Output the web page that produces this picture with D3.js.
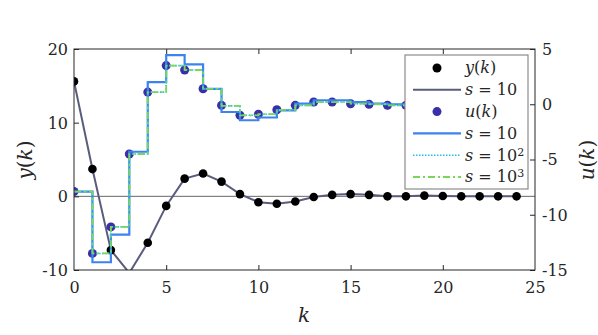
<!DOCTYPE html>
<html>
<head>
<meta charset="utf-8">
<script src="https://cdn.jsdelivr.net/npm/d3@7"></script>
<style>
  html, body { margin: 0; padding: 0; background: #fff; }
  svg { display: block; }
  svg text { font-family: "DejaVu Serif", "Liberation Serif", serif; fill: #262626; }
</style>
</head>
<body>
<svg id="chart" width="598" height="335"></svg>
<script>
// ---- data ----
const kSteps = d3.range(0, 25);
const yMeasured = [15.6, 3.7, -7.3, -10.4, -6.3, -1.3, 2.4, 3.1, 2.0, 0.3, -0.8, -1.0, -0.7, -0.1, 0.2, 0.3, 0.2, 0.0, 0.0, 0.1, 0.05, 0.0, 0.0, 0.0, 0.0];
const ySim10 = [15.6, 3.7, -7.3, -10.4, -6.3, -1.3, 2.4, 3.1, 2.0, 0.3, -0.8, -1.0, -0.7, -0.1, 0.2, 0.3, 0.2, 0.0, 0.0, 0.1, 0.05, 0.0, 0.0, 0.0, 0.0];
const uMeasured = [-7.9, -13.5, -11.1, -4.5, 1.1, 3.5, 3.1, 1.4, -0.1, -1.0, -0.9, -0.5, -0.1, 0.2, 0.2, 0.05, 0.0, -0.1, -0.1, -0.1, -0.1, -0.1, -0.1, -0.1, -0.1];
const uS10 = [-7.9, -14.3, -11.8, -4.3, 2.0, 4.45, 3.6, 1.4, -0.7, -1.45, -1.2, -0.55, 0.06, 0.36, 0.36, 0.2, 0.06, 0.0, 0.0, 0.0, 0.0, 0.0, 0.0, 0.0, 0.0];
const uS100 = [-7.9, -13.5, -11.1, -4.5, 1.1, 3.5, 3.1, 1.4, -0.15, -1.0, -0.9, -0.5, -0.1, 0.2, 0.2, 0.05, 0.0, -0.1, -0.1, -0.1, -0.1, -0.1, -0.1, -0.1, -0.1];
const uS1000 = [-7.9, -13.5, -11.1, -4.5, 1.1, 3.5, 3.1, 1.4, -0.15, -1.0, -0.9, -0.5, -0.1, 0.2, 0.2, 0.05, 0.0, -0.1, -0.1, -0.1, -0.1, -0.1, -0.1, -0.1, -0.1];
const xTicks = [0, 5, 10, 15, 20, 25];
const yLeftTicks = [-10, 0, 10, 20];
const yRightTicks = [-15, -10, -5, 0, 5];

// ---- layout ----
const FONT = '"DejaVu Serif", "Liberation Serif", serif';
const L = 74, R = 535, T = 49, B = 270;
const svg = d3.select("#chart");
const x = d3.scaleLinear().domain([0, 25]).range([L, R]);
const yL = d3.scaleLinear().domain([-10, 20]).range([B, T]);
const yR = d3.scaleLinear().domain([-15, 5]).range([B, T]);
const axisColor = "#262626";

svg.append("defs").append("clipPath").attr("id", "plotclip")
  .append("rect").attr("x", L).attr("y", T).attr("width", R - L).attr("height", B - T);

const plot = svg.append("g").attr("clip-path", "url(#plotclip)");

// zero line
plot.append("line")
  .attr("x1", L).attr("x2", R).attr("y1", yL(0)).attr("y2", yL(0))
  .attr("stroke", "#555").attr("stroke-width", 0.9);

// y(k) line
const lineY = d3.line().x((d, i) => x(kSteps[i])).y(d => yL(d));
plot.append("path").datum(ySim10).attr("d", lineY)
  .attr("fill", "none").attr("stroke", "#595c7c").attr("stroke-width", 2);

// y(k) dots
plot.selectAll("circle.ydot").data(yMeasured.map((v, i) => [kSteps[i], v]).filter(d => d[1] >= -10 && d[1] <= 20))
  .join("circle").attr("class", "ydot")
  .attr("cx", d => x(d[0])).attr("cy", d => yL(d[1])).attr("r", 4.3).attr("fill", "#000");

// u(k) dots
plot.selectAll("circle.udot").data(uMeasured.map((v, i) => [kSteps[i], v]))
  .join("circle").attr("class", "udot")
  .attr("cx", d => x(d[0])).attr("cy", d => yR(d[1])).attr("r", 4.5).attr("fill", "#3a2fa8");

const stairs = d3.line().curve(d3.curveStepAfter).x((d, i) => x(kSteps[i])).y(d => yR(d));
plot.append("path").datum(uS10).attr("d", stairs)
  .attr("fill", "none").attr("stroke", "#3d83f0").attr("stroke-width", 2.2);
plot.append("path").datum(uS100).attr("d", stairs)
  .attr("fill", "none").attr("stroke", "#20c4e6").attr("stroke-width", 1.6).attr("stroke-dasharray", "1.5,1.5");
plot.append("path").datum(uS1000).attr("d", stairs)
  .attr("fill", "none").attr("stroke", "#78d65a").attr("stroke-width", 1.8).attr("stroke-dasharray", "7,3,2,3");

// ---- axes ----
const fs = 16;
function styleAxis(g) {
  g.attr("font-family", FONT);
  g.select(".domain").remove();
  g.selectAll(".tick line").attr("stroke", axisColor).attr("stroke-width", 1);
  g.selectAll(".tick text").attr("fill", axisColor).style("font-size", fs + "px")
    .style("font-family", FONT);
}
const fmt = d => String(d);
const gx = svg.append("g").attr("transform", `translate(0,${B})`)
  .call(d3.axisBottom(x).tickValues(xTicks).tickSize(-5).tickPadding(12).tickFormat(fmt));
styleAxis(gx);
gx.selectAll(".tick line").filter(d => d === 0 || d === 25).remove();
const gxt = svg.append("g").attr("transform", `translate(0,${T})`)
  .call(d3.axisTop(x).tickValues(xTicks.filter(d => d > 0 && d < 25)).tickSize(-5).tickFormat(""));
styleAxis(gxt);
const gyl = svg.append("g").attr("transform", `translate(${L},0)`)
  .call(d3.axisLeft(yL).tickValues(yLeftTicks).tickSize(-5).tickPadding(6).tickFormat(fmt));
styleAxis(gyl);
gyl.selectAll(".tick text").attr("dy", "0.34em");
const gyr = svg.append("g").attr("transform", `translate(${R},0)`)
  .call(d3.axisRight(yR).tickValues(yRightTicks).tickSize(-5).tickPadding(7).tickFormat(fmt));
styleAxis(gyr);
gyr.selectAll(".tick text").attr("dy", "0.34em");

// frame
svg.append("rect").attr("x", L).attr("y", T).attr("width", R - L).attr("height", B - T)
  .attr("fill", "none").attr("stroke", axisColor).attr("stroke-width", 1);

// axis labels
function mathLabel(g, parts, size) {
  const t = g.append("text").style("font-size", size + "px").style("font-family", FONT).attr("text-anchor", "middle");
  parts.forEach(p => t.append("tspan").text(p[0]).style("font-style", p[1] ? "italic" : "normal"));
  return t;
}
mathLabel(svg.append("g").attr("transform", "translate(32,160) rotate(-90)"),
  [["y", true], ["(", false], ["k", true], [")", false]], 20);
mathLabel(svg.append("g").attr("transform", "translate(594,160) rotate(-90)"),
  [["u", true], ["(", false], ["k", true], [")", false]], 20);
mathLabel(svg.append("g").attr("transform", "translate(304,322)"),
  [["k", true]], 20);

// ---- legend ----
const lg = svg.append("g");
lg.append("rect").attr("x", 405).attr("y", 55).attr("width", 123).attr("height", 134)
  .attr("fill", "#fff").attr("stroke", "#8c8c8c").attr("stroke-width", 1.2);
const rows = [
  { type: "dot", color: "#000", label: [["y", true], ["(", false], ["k", true], [")", false]] },
  { type: "line", color: "#595c7c", w: 2, dash: null, label: [["s", true], [" = 10", false]] },
  { type: "dot", color: "#3a2fa8", label: [["u", true], ["(", false], ["k", true], [")", false]] },
  { type: "line", color: "#3d83f0", w: 2.2, dash: null, label: [["s", true], [" = 10", false]] },
  { type: "line", color: "#20c4e6", w: 1.6, dash: "1.5,1.5", label: [["s", true], [" = 10", false]], sup: "2" },
  { type: "line", color: "#78d65a", w: 1.8, dash: "7,3,2,3", label: [["s", true], [" = 10", false]], sup: "3" }
];
rows.forEach((r, i) => {
  const cy = 68 + i * 21.8;
  if (r.type === "dot") {
    lg.append("circle").attr("cx", 437).attr("cy", cy).attr("r", 4.5).attr("fill", r.color);
  } else {
    const ln = lg.append("line").attr("x1", 413).attr("x2", 461).attr("y1", cy).attr("y2", cy)
      .attr("stroke", r.color).attr("stroke-width", r.w);
    if (r.dash) ln.attr("stroke-dasharray", r.dash);
  }
  const t = lg.append("text").attr("x", 465).attr("y", cy).attr("dy", "0.34em")
    .style("font-size", "16px").style("font-family", FONT);
  r.label.forEach(p => t.append("tspan").text(p[0]).style("font-style", p[1] ? "italic" : "normal"));
  if (r.sup) t.append("tspan").text(r.sup).attr("dy", "-0.45em").style("font-size", "11px");
});
</script>
</body>
</html>
